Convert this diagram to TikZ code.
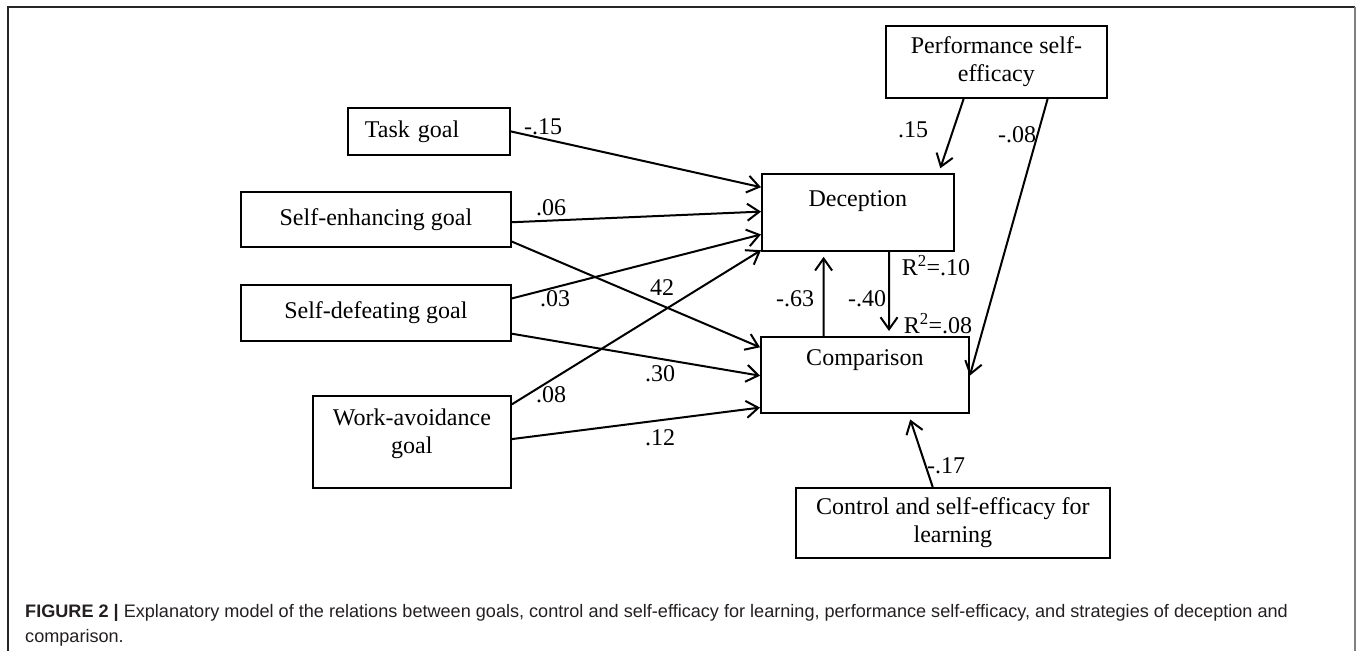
\documentclass[tikz,border=0pt]{standalone}
\usepackage{fontspec}
\setmainfont{Liberation Serif}
\newfontfamily\capfont{Liberation Sans}
\usetikzlibrary{arrows.meta,calc}
\definecolor{capgray}{RGB}{35,31,32}
\begin{document}
\begin{tikzpicture}[x=1pt,y=-1pt, font=\fontsize{24}{27.6}\selectfont,
  box/.style={draw, line width=1.8pt, inner sep=0pt, anchor=north west},
  arr/.style={draw, line width=2pt, -{Straight Barb[length=12pt,width=17pt]}},
  lab/.style={inner sep=0pt},
  capt/.style={anchor=base west, inner sep=0pt, text=capgray, font=\capfont\fontsize{18.1}{22}\selectfont}]
\useasboundingbox (0,0) rectangle (1360,651);
% frame
\draw[line width=1.6pt, black!85] (8,651) -- (8,7) -- (1355,7);
\draw[line width=1.6pt, black!50] (1355,7) -- (1355,651);

% boxes
\node[box, minimum width=162pt, minimum height=47pt, text width=128pt, inner xsep=17pt, align=left] (task) at (347,107) {Task goal};
\node[box, minimum width=270pt, minimum height=55pt] (enh) at (240,191) {Self-enhancing goal};
\node[box, minimum width=270pt, minimum height=56pt] (def) at (240,284) {Self-defeating goal};
\node[box, minimum width=198pt, minimum height=92pt, label={[align=center, yshift=8pt]center:Work-avoidance\\goal}] (work) at (312,395) {};
\node[box, minimum width=221pt, minimum height=72pt, align=center] (perf) at (885,25) {Performance self-\\efficacy};
\node[box, minimum width=192pt, minimum height=77pt, text height=33pt, text depth=44pt] (dec) at (761,173) {Deception};
\node[box, minimum width=208pt, minimum height=76pt, text height=29pt, text depth=47pt] (comp) at (760,336) {Comparison};
\node[box, minimum width=314pt, minimum height=70pt, align=center] (ctrl) at (795,487) {Control and self-efficacy for\\learning};

% connectors
\draw[arr] (task.east) -- ($(dec.north west)!0.18!(dec.south west)$);
\draw[arr] ($(enh.north east)!0.55!(enh.south east)$) -- ($(dec.north west)!0.49!(dec.south west)$);
\draw[arr] ($(def.north east)!0.25!(def.south east)$) -- ($(dec.north west)!0.78!(dec.south west)$);
\draw[arr] ($(work.north east)!0.1!(work.south east)$) -- ($(dec.north west)!0.98!(dec.south west)$);
\draw[arr] ($(enh.north east)!0.89!(enh.south east)$) -- ($(comp.north west)!0.145!(comp.south west)$);
\draw[arr] ($(def.north east)!0.86!(def.south east)$) -- ($(comp.north west)!0.51!(comp.south west)$);
\draw[arr] ($(work.north east)!0.47!(work.south east)$) -- ($(comp.north west)!0.92!(comp.south west)$);
\draw[arr, shorten >=5pt] ($(perf.south west)!0.353!(perf.south east)$) -- ($(dec.north west)!0.917!(dec.north east)$);
\draw[arr] ($(perf.south west)!0.73!(perf.south east)$) -- ($(comp.north east)!0.51!(comp.south east)$);
\draw[arr, shorten >=5pt] ($(comp.north west)!0.303!(comp.north east)$) -- ($(dec.south west)!0.323!(dec.south east)$);
\draw[arr, shorten >=5pt] ($(dec.south west)!0.661!(dec.south east)$) -- ($(comp.north west)!0.615!(comp.north east)$);
\draw[arr, shorten >=6pt] ($(ctrl.north west)!0.436!(ctrl.north east)$) -- ($(comp.south west)!0.707!(comp.south east)$);

% path labels
\node[lab] (l1) at (543,127) {-.15};
\node[lab] (l2) at (551,208) {.06};
\node[lab] (l3) at (555,299) {.03};
\node[lab] (l4) at (662,288) {42};
\node[lab] (l5) at (660,374) {.30};
\node[lab] (l6) at (551,395) {.08};
\node[lab] (l7) at (660,438) {.12};
\node[lab] (l8) at (913,130) {.15};
\node[lab] (l9) at (1017,135) {-.08};
\node[lab] (l10) at (795,299) {-.63};
\node[lab] (l11) at (867,299) {-.40};
\node[lab] (l12) at (936,266) {R\textsuperscript{2}=.10};
\node[lab] (l13) at (938,324) {R\textsuperscript{2}=.08};
\node[lab] (l14) at (946,466) {-.17};

% caption
\node[capt] (cap1) at (25,617) {\textbf{FIGURE 2 |} Explanatory model of the relations between goals, control and self-efficacy for learning, performance self-efficacy, and strategies of deception and};
\node[capt] (cap2) at (25,642) {comparison.};
\end{tikzpicture}
\end{document}
